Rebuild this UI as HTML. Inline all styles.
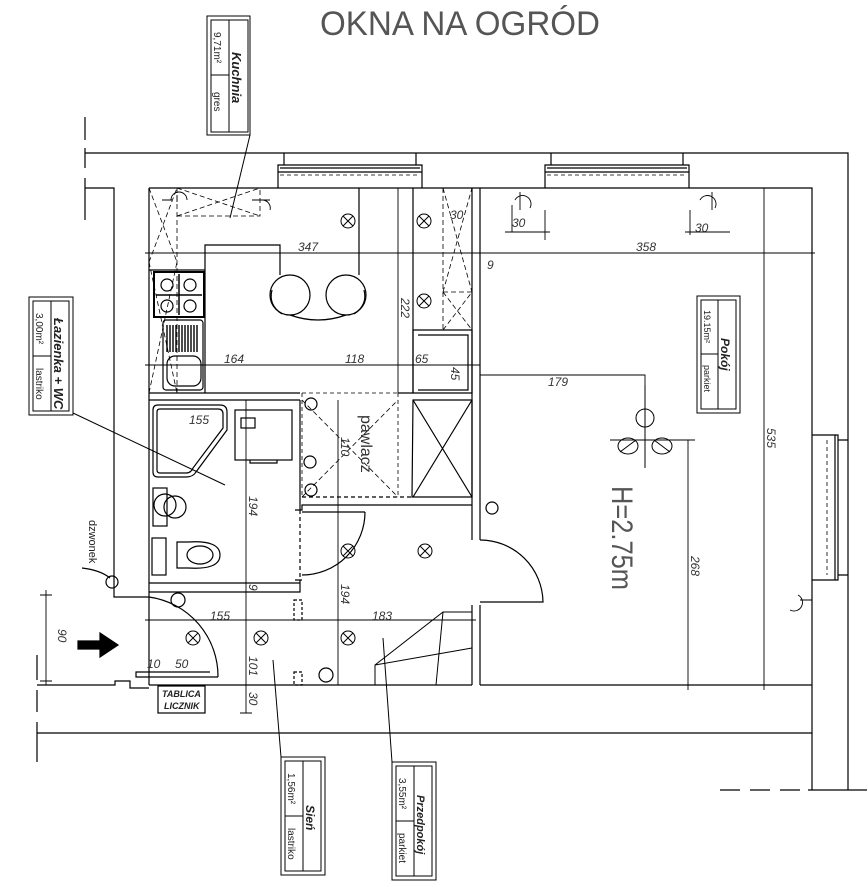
<!DOCTYPE html>
<html><head><meta charset="utf-8"><style>
html,body{margin:0;padding:0;background:#fff;}
svg{display:block;}
text{font-family:"Liberation Sans",sans-serif;fill:#222;stroke:none;}
.d{font-style:italic;font-size:12px;fill:#333;}
</style></head><body>
<svg width="867" height="891" viewBox="0 0 867 891" xmlns="http://www.w3.org/2000/svg" fill="none" stroke="#000" stroke-width="1.2">
<!-- title -->
<text x="320" y="35" font-size="34" textLength="280" lengthAdjust="spacingAndGlyphs" style="fill:#555">OKNA NA OGRÓD</text>

<!-- outer walls -->
<path d="M85 153 H848 V790"/>
<path d="M85 188 H114 V597 H149"/>
<path d="M149 188 H812 V733 H37"/>
<path d="M37 685 H115 V681 H130 V688 H149 M149 685 H472 M480 685 H812"/>
<path d="M812 733 V790"/>
<path d="M85 117 V140 M85 148 V168 M85 178 V220" />
<path d="M37 655 V680 M37 690 V712 M37 722 V762"/>
<path d="M720 790 H740 M750 790 H770 M780 790 H800 M808 790 H867"/>
<!-- top windows -->
<path d="M278 188 V165 H422 V188 M284 153 V165 M416 153 V165 M278 172 H422 M280 168 H420"/>
<path d="M545 188 V165 H689 V188 M551 153 V165 M683 153 V165 M545 172 H689 M547 168 H687"/>
<path d="M280 175 H420 M547 175 H687" stroke-dasharray="4 3" stroke-width="0.8"/>
<!-- right window -->
<path d="M812 435 H838 V580 H812 M835 435 V580 M838 440 H848 M838 575 H848"/>
<path d="M827 440 V575" stroke-dasharray="4 3" stroke-width="0.8"/>

<!-- inner partition walls -->
<path d="M149 188 V685"/>
<path d="M472 188 V505 M480 188 V540 M472 540 V505 M472 605 V685 M480 605 V685"/>
<path d="M149 393 H300 M149 400 H300 M300 400 V510 M295 510 H302 V505 H472"/>
<path d="M398 393 H413 M413 188 V393 M413 400 H472 V497 H412 Z"/>
<path d="M413 400 L472 497 M472 400 L413 497"/>
<path d="M413 330 H472 V393 H413 Z M418 335 H468 V390 H418"/>
<path d="M149 583 H300 M149 592 H300 V580 M295 580 H302"/>
<path d="M300 510 V580" stroke-dasharray="4 3"/>
<path d="M294 600 H302 V620 H294 Z M294 672 H302 V685 H294 Z" stroke-dasharray="3 2"/>
<path d="M302 497 H412" stroke-dasharray="4 3"/>
<path d="M302 400 L398 497 M302 497 L398 400" stroke-dasharray="5 3" stroke-width="0.8"/>
<path d="M302 393 V497 M398 393 V497 M302 393 H398" stroke-dasharray="4 3" stroke-width="0.8"/>
<!-- kitchen dashed cabinets -->
<path d="M149 188 L177 262 M149 262 L177 188 M177 188 V393 M149 393 L177 262 M149 262 L177 393" stroke-dasharray="5 3" stroke-width="0.8"/>
<path d="M177 216 H260 V188 M177 188 L260 216 M177 216 L260 188" stroke-dasharray="5 3" stroke-width="0.8"/>
<path d="M443 188 V330 M443 292 H472 M443 188 L472 292 M443 292 L472 188 M443 292 L472 330 M443 330 L472 292" stroke-dasharray="5 3" stroke-width="0.8"/>
<!-- counter -->
<path d="M149 270 H205 V245 H280 V253 M205 270 V393"/>
<rect x="154" y="272" width="50" height="45" stroke-width="2"/>
<path d="M179 274 V315 M156 295 H202" stroke-width="1.5"/>
<circle cx="167" cy="285" r="6"/><circle cx="190" cy="285" r="6"/><circle cx="167" cy="306" r="6"/><circle cx="190" cy="306" r="6"/>
<rect x="163" y="320" width="40" height="70" rx="3"/>
<path d="M167 325 V352 M170 325 V352 M173 325 V352 M176 325 V352 M179 325 V352 M182 325 V352 M185 325 V352 M188 325 V352 M191 325 V352 M194 325 V352 M197 325 V352" stroke-width="1.4"/>
<rect x="167" y="356" width="34" height="30" rx="8"/>
<!-- chandelier kitchen -->
<path d="M280 253 V275 M359 188 V275"/>
<circle cx="290" cy="295" r="20"/><circle cx="346" cy="295" r="20"/>
<path d="M290 315 Q318 325 346 315 M272 290 Q268 305 282 314 M364 290 Q368 305 354 314"/>
<!-- sockets kitchen -->
<path d="M172 200 H162 M177 195 V202 M187 200 A8 8 0 0 0 171 200 M252 200 H270 M262 200 A8 8 0 0 1 270 210" stroke-width="0.9"/>
<!-- lights -->
<g stroke-width="1">
<circle cx="348" cy="221" r="7"/><path d="M343 216 L353 226 M353 216 L343 226"/>
<circle cx="424" cy="221" r="7"/><path d="M419 216 L429 226 M429 216 L419 226"/>
<circle cx="424" cy="301" r="7"/><path d="M419 296 L429 306 M429 296 L419 306"/>
<circle cx="348" cy="551" r="7"/><path d="M343 546 L353 556 M353 546 L343 556"/>
<circle cx="425" cy="551" r="7"/><path d="M420 546 L430 556 M430 546 L420 556"/>
<circle cx="193" cy="638" r="7"/><path d="M188 633 L198 643 M198 633 L188 643"/>
<circle cx="261" cy="638" r="7"/><path d="M256 633 L266 643 M266 633 L256 643"/>
<circle cx="348" cy="638" r="7"/><path d="M343 633 L353 643 M353 633 L343 643"/>
</g>
<!-- pawlacz switches -->
<circle cx="311" cy="404" r="6"/><circle cx="310" cy="462" r="6"/><circle cx="311" cy="490" r="6"/>
<circle cx="326" cy="675" r="7"/><circle cx="492" cy="508" r="6"/>
<!-- bathroom -->
<path d="M153 410 Q153 405 158 405 H220 Q227 405 227 412 V430 L196 472 Q193 477 186 477 H158 Q153 477 153 472 Z"/>
<path d="M157 412 Q157 409 160 409 H218 Q223 409 223 414 V428 L193 468 Q191 473 186 473 H160 Q157 473 157 470 Z"/>
<rect x="235" y="410" width="57" height="50"/><rect x="241" y="418" width="14" height="10"/>
<path d="M250 460 V463 H277 V460"/>
<circle cx="165" cy="505" r="11"/><circle cx="175" cy="507" r="11"/><rect x="153" y="488" width="14" height="38"/>
<rect x="152" y="538" width="14" height="37"/>
<path d="M177 542 H188 Q220 540 220 555 Q220 570 188 568 H177 Z"/>
<ellipse cx="200" cy="555" rx="13" ry="9"/>
<!-- doors -->
<path d="M302 512 H365 M365 512 A63 63 0 0 1 302 575"/>
<path d="M480 540 A63 63 0 0 1 543 602 H480"/>
<path d="M149 597 A80 80 0 0 1 218 677 M218 677 H136 V672 H210"/>
<circle cx="178" cy="600" r="7"/><circle cx="112" cy="582" r="6"/>
<path d="M82 568 Q100 570 110 578"/>
<!-- hall stairs -->
<path d="M375 685 V665 L443 612 H472 M443 612 L436 685 M375 665 L472 648" stroke-width="1"/>
<!-- dimension lines -->
<g stroke-width="0.9">
<path d="M145 253 H484 M480 253 H815"/>
<path d="M145 365 H480"/>
<path d="M480 375 H645 V385"/>
<path d="M398 188 V393"/>
<path d="M764 188 V690"/>
<path d="M688 440 V690 M680 440 H695"/>
<path d="M246 400 V713 M240 713 H252"/>
<path d="M338 400 V685"/>
<path d="M145 620 H476"/>
<path d="M46 590 V685 M40 595 H52 M40 681 H52"/>
<path d="M512 205 V232 M505 232 H550 M545 210 V240 M690 210 V235 M685 232 H730"/>
</g>
<text class="d" x="298" y="251">347</text>
<text class="d" x="636" y="251">358</text>
<text class="d" x="487" y="269">9</text>
<text class="d" x="224" y="363">164</text>
<text class="d" x="345" y="363">118</text>
<text class="d" x="415" y="363">65</text>
<text class="d" x="548" y="386">179</text>
<text class="d" x="450" y="219">30</text>
<text class="d" x="512" y="227">30</text>
<text class="d" x="695" y="232">30</text>
<text class="d" x="189" y="424">155</text>
<text class="d" x="210" y="620">155</text>
<text class="d" x="372" y="620">183</text>
<text class="d" x="147" y="668">10</text>
<text class="d" x="175" y="668">50</text>
<text class="d" transform="translate(401,298) rotate(90)">222</text>
<text class="d" transform="translate(451,367) rotate(90)">45</text>
<text class="d" transform="translate(341,437) rotate(90)">110</text>
<text class="d" transform="translate(249,496) rotate(90)">194</text>
<text class="d" transform="translate(341,584) rotate(90)">194</text>
<text class="d" transform="translate(249,656) rotate(90)">101</text>
<text class="d" transform="translate(249,692) rotate(90)">30</text>
<text class="d" transform="translate(249,584) rotate(90)">9</text>
<text class="d" transform="translate(691,556) rotate(90)">268</text>
<text class="d" transform="translate(767,428) rotate(90)">535</text>
<text class="d" transform="translate(58,629) rotate(90)">90</text>
<text transform="translate(361,415) rotate(90)" font-size="16" style="fill:#333">pawlacz</text>
<text transform="translate(612,486) rotate(90)" font-size="30" textLength="104" lengthAdjust="spacingAndGlyphs" style="fill:#555">H=2.75m</text>
<text transform="translate(89,520) rotate(90)" font-size="11">dzwonek</text>
<!-- entrance arrow -->
<path d="M78 641 H100 V633 L118 645 L100 657 V649 H78 Z" fill="#000"/>
<!-- tablica -->
<rect x="158" y="686" width="47" height="27"/>
<text x="162" y="697" font-size="9" font-weight="bold" font-style="italic">TABLICA</text>
<text x="164" y="709" font-size="9" font-weight="bold" font-style="italic">LICZNIK</text>
<!-- chandelier pokoj -->
<g stroke-width="1">
<path d="M645 385 V468 M610 440 H690"/>
<ellipse cx="645" cy="418" rx="9" ry="9"/><ellipse cx="628" cy="446" rx="10" ry="8"/><ellipse cx="662" cy="446" rx="10" ry="8"/>
<path d="M620 452 L636 440 M654 440 L670 452"/>
</g>
<!-- room tags -->
<g stroke-width="1">
<rect x="207" y="16" width="43" height="119"/><rect x="211" y="20" width="37" height="112"/><path d="M229 20 V132 M211 75 H229"/>
<path d="M250 135 L230 218"/>
<rect x="29" y="297" width="44" height="118"/><rect x="33" y="301" width="36" height="110"/><path d="M51 301 V411 M33 356 H51"/>
<path d="M73 413 L225 485"/>
<rect x="697" y="296" width="43" height="117"/><rect x="701" y="300" width="35" height="109"/><path d="M718 300 V409 M701 354 H718"/>
<rect x="281" y="757" width="44" height="118"/><rect x="285" y="761" width="36" height="110"/><path d="M303 761 V871 M285 816 H303"/>
<path d="M281 757 L273 660"/>
<rect x="392" y="762" width="44" height="118"/><rect x="396" y="766" width="36" height="110"/><path d="M414 766 V876 M396 821 H414"/>
<path d="M392 762 L383 638"/>
</g>
<g font-size="10">
<text transform="translate(232,52) rotate(90)" font-weight="bold" font-style="italic" font-size="13">Kuchnia</text>
<text transform="translate(214,32) rotate(90)">9,71m²</text>
<text transform="translate(214,92) rotate(90)">gres</text>
<text transform="translate(54,318) rotate(90)" font-weight="bold" font-style="italic" font-size="13">Łazienka + WC</text>
<text transform="translate(36,313) rotate(90)">3,00m²</text>
<text transform="translate(36,368) rotate(90)">lastriko</text>
<text transform="translate(721,338) rotate(90)" font-weight="bold" font-style="italic" font-size="12">Pokój</text>
<text transform="translate(704,310) rotate(90)" font-size="9">19.15m²</text>
<text transform="translate(704,365) rotate(90)" font-size="9">parkiet</text>
<text transform="translate(306,805) rotate(90)" font-weight="bold" font-style="italic" font-size="12">Sień</text>
<text transform="translate(288,773) rotate(90)">1,56m²</text>
<text transform="translate(288,828) rotate(90)">lastriko</text>
<text transform="translate(417,795) rotate(90)" font-weight="bold" font-style="italic" font-size="11">Przedpokój</text>
<text transform="translate(399,778) rotate(90)">3,55m²</text>
<text transform="translate(399,833) rotate(90)">parkiet</text>
</g>
<!-- sockets pokoj -->
<path d="M515 200 A8 8 0 0 1 530 208 M520 192 V210 M700 200 A8 8 0 0 1 715 208 M712 192 V210 M798 595 A8 8 0 0 1 790 610 M800 600 H812" stroke-width="0.9"/>
</svg>
</body></html>
